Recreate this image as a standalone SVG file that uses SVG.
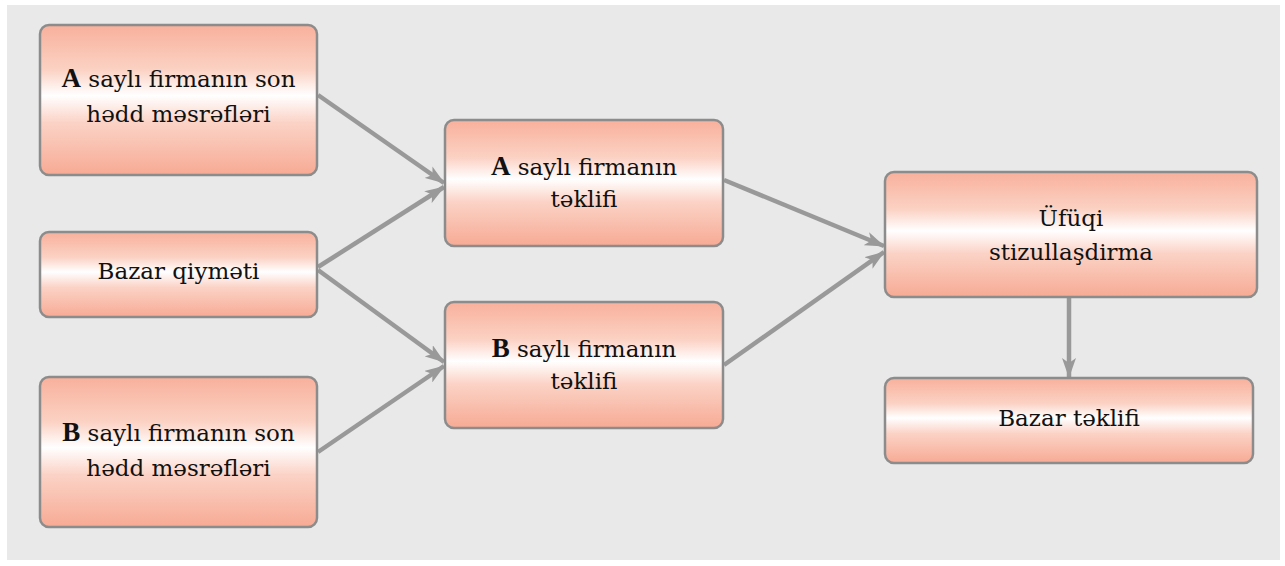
<svg xmlns="http://www.w3.org/2000/svg" width="1285" height="566" viewBox="0 0 1285 566">
<style>
.box{fill:url(#g);stroke:#8c8c8c;stroke-width:2.5}
.t{font-family:'DejaVu Serif','Liberation Serif',serif;font-size:23px;fill:#111;text-anchor:middle}
.b{font-family:'Liberation Serif',serif;font-weight:bold;font-size:27px}
.c{stroke:#999;stroke-width:4.5;fill:none;marker-end:url(#ah)}
</style>
<defs>
<linearGradient id="g" x1="0" y1="0" x2="0" y2="1">
<stop offset="0" stop-color="#f8b09b"/>
<stop offset="0.3" stop-color="#fbd2c4"/>
<stop offset="0.47" stop-color="#ffffff"/>
<stop offset="0.65" stop-color="#fbd3c6"/>
<stop offset="1" stop-color="#f7aa94"/>
</linearGradient>
<marker id="ah" markerUnits="userSpaceOnUse" markerWidth="20" markerHeight="14" refX="19" refY="7" orient="auto">
<path d="M0,0 L20,7 L0,14 L5,7 Z" fill="#999"/>
</marker>
</defs>
<rect x="0" y="0" width="1285" height="566" fill="#ffffff"/>
<rect x="7" y="5" width="1273" height="555" fill="#e9e9e9"/>
<g id="connectors">
<line class="c" x1="318" y1="95" x2="444" y2="183"/>
<line class="c" x1="318" y1="267" x2="444" y2="187"/>
<line class="c" x1="318" y1="270" x2="444" y2="362"/>
<line class="c" x1="318" y1="452" x2="444" y2="366"/>
<line class="c" x1="724" y1="180" x2="884" y2="246"/>
<line class="c" x1="724" y1="365" x2="884" y2="252"/>
<line class="c" x1="1069" y1="298" x2="1069" y2="377"/>
</g>
<g id="n1">
<rect class="box" x="40" y="25" width="277" height="150" rx="9"/>
<text class="t" x="178.5" y="87"><tspan class="b">A</tspan> saylı firmanın son</text>
<text class="t" x="178.5" y="122">hədd məsrəfləri</text>
</g>
<g id="n2">
<rect class="box" x="40" y="232" width="277" height="85" rx="9"/>
<text class="t" x="178.5" y="279">Bazar qiyməti</text>
</g>
<g id="n3">
<rect class="box" x="40" y="377" width="277" height="150" rx="9"/>
<text class="t" x="178.5" y="441"><tspan class="b">B</tspan> saylı firmanın son</text>
<text class="t" x="178.5" y="476">hədd məsrəfləri</text>
</g>
<g id="n4">
<rect class="box" x="445" y="120" width="278" height="126" rx="9"/>
<text class="t" x="584" y="175"><tspan class="b">A</tspan> saylı firmanın</text>
<text class="t" x="584" y="207">təklifi</text>
</g>
<g id="n5">
<rect class="box" x="445" y="302" width="278" height="126" rx="9"/>
<text class="t" x="584" y="357"><tspan class="b">B</tspan> saylı firmanın</text>
<text class="t" x="584" y="389">təklifi</text>
</g>
<g id="n6">
<rect class="box" x="885" y="172" width="372" height="125" rx="9"/>
<text class="t" x="1071" y="226">Üfüqi</text>
<text class="t" x="1071" y="260">stizullaşdirma</text>
</g>
<g id="n7">
<rect class="box" x="885" y="378" width="368" height="85" rx="9"/>
<text class="t" x="1069" y="426">Bazar təklifi</text>
</g>
</svg>
